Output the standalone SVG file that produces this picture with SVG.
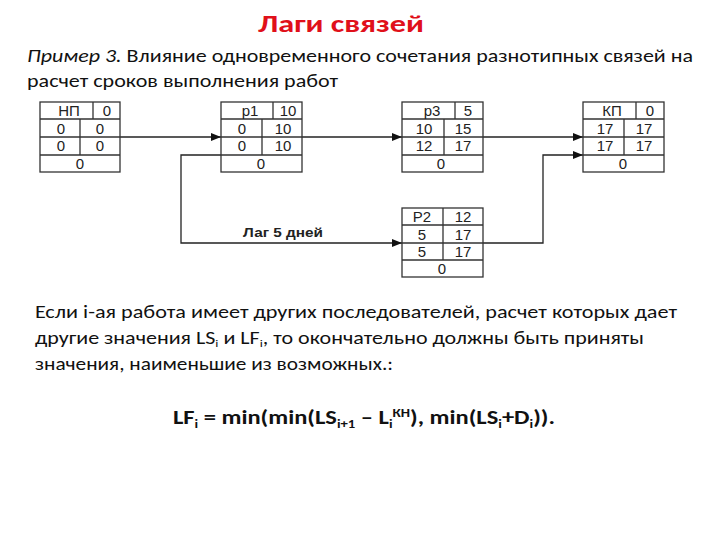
<svg xmlns="http://www.w3.org/2000/svg" width="720" height="540" viewBox="0 0 720 540">
<defs>
<marker id="ah" markerWidth="10" markerHeight="8" refX="10" refY="4" orient="auto" markerUnits="userSpaceOnUse">
<path d="M0,0 L10,4 L0,8 Z" fill="#111"/>
</marker>
<style>
.box{fill:#fff;stroke:#333;stroke-width:1.3}
.ln{stroke:#333;stroke-width:1.3;fill:none}
.t{font-family:"Liberation Sans",Arial,sans-serif;font-size:15px;fill:#222;text-anchor:middle}
.con{stroke:#222;stroke-width:1.3;fill:none}
.body{font-family:Carlito,"Liberation Sans",Arial,sans-serif;font-size:18px;fill:#111}
</style>
</defs>
<rect width="720" height="540" fill="#fff"/>
<text x="341" y="32" font-family="Carlito,'Liberation Sans',Arial,sans-serif" font-size="25" font-weight="bold" fill="#e0101a" text-anchor="middle" textLength="166" lengthAdjust="spacingAndGlyphs">Лаги связей</text>
<text class="body" x="27" y="62" textLength="666" lengthAdjust="spacingAndGlyphs"><tspan font-style="italic">Пример 3.</tspan> Влияние одновременного сочетания разнотипных связей на</text>
<text class="body" x="27" y="87" textLength="311" lengthAdjust="spacingAndGlyphs">расчет сроков выполнения работ</text>

<g id="connectors">
<line class="con" x1="120" y1="137" x2="221" y2="137" marker-end="url(#ah)"/>
<line class="con" x1="302" y1="137" x2="402" y2="137" marker-end="url(#ah)"/>
<line class="con" x1="483" y1="137" x2="583" y2="137" marker-end="url(#ah)"/>
<polyline class="con" points="221,155 181,155 181,243 402,243" marker-end="url(#ah)"/>
<polyline class="con" points="483,243 543,243 543,155 583,155" marker-end="url(#ah)"/>
<text x="243" y="237" font-family="'Liberation Sans',Arial,sans-serif" font-size="13" font-weight="bold" fill="#222" textLength="80" lengthAdjust="spacingAndGlyphs">Лаг 5 дней</text>
</g>

<g id="node-NP">
<rect class="box" x="40" y="102" width="80" height="70"/>
<path class="ln" d="M40,119H120M40,137H120M40,155H120M93,102V119M80,119V155"/>
<text class="t" x="69" y="116">НП</text><text class="t" x="107" y="116">0</text>
<text class="t" x="61" y="134">0</text><text class="t" x="100" y="134">0</text>
<text class="t" x="80" y="151" dx="-19">0</text><text class="t" x="100" y="151">0</text>
<text class="t" x="80" y="169">0</text>
</g>

<g id="node-p1">
<rect class="box" x="221" y="102" width="81" height="70"/>
<path class="ln" d="M221,119H302M221,137H302M221,155H302M273,102V119M262,119V155"/>
<text class="t" x="250" y="116">р1</text><text class="t" x="288" y="116">10</text>
<text class="t" x="242" y="134">0</text><text class="t" x="283" y="134">10</text>
<text class="t" x="242" y="151">0</text><text class="t" x="283" y="151">10</text>
<text class="t" x="261" y="169">0</text>
</g>

<g id="node-p3">
<rect class="box" x="402" y="102" width="81" height="70"/>
<path class="ln" d="M402,119H483M402,137H483M402,155H483M455,102V119M444,119V155"/>
<text class="t" x="432" y="116">р3</text><text class="t" x="468" y="116">5</text>
<text class="t" x="424" y="134">10</text><text class="t" x="463" y="134">15</text>
<text class="t" x="424" y="151">12</text><text class="t" x="463" y="151">17</text>
<text class="t" x="441" y="169">0</text>
</g>

<g id="node-KP">
<rect class="box" x="583" y="102" width="81" height="70"/>
<path class="ln" d="M583,119H664M583,137H664M583,155H664M636,102V119M624,119V155"/>
<text class="t" x="612" y="116">КП</text><text class="t" x="650" y="116">0</text>
<text class="t" x="605" y="134">17</text><text class="t" x="644" y="134">17</text>
<text class="t" x="605" y="151">17</text><text class="t" x="644" y="151">17</text>
<text class="t" x="623" y="169">0</text>
</g>

<g id="node-P2">
<rect class="box" x="402" y="208" width="81" height="69"/>
<path class="ln" d="M402,225H483M402,243H483M402,260H483M443,208V260"/>
<text class="t" x="422" y="222">Р2</text><text class="t" x="463" y="222">12</text>
<text class="t" x="422" y="240">5</text><text class="t" x="463" y="240">17</text>
<text class="t" x="422" y="257">5</text><text class="t" x="463" y="257">17</text>
<text class="t" x="442" y="274">0</text>
</g>

<text class="body" x="35" y="318" textLength="642" lengthAdjust="spacingAndGlyphs">Если i-ая работа  имеет других последователей, расчет которых дает</text>
<text class="body" x="35" y="344" textLength="609" lengthAdjust="spacingAndGlyphs">другие значения LS<tspan font-size="11" dy="3">i</tspan><tspan dy="-3"> и LF</tspan><tspan font-size="11" dy="3">i</tspan><tspan dy="-3">, то окончательно должны быть приняты</tspan></text>
<text class="body" x="35" y="370" textLength="358" lengthAdjust="spacingAndGlyphs">значения, наименьшие из возможных.:</text>

<text x="173" y="424" font-family="Carlito,'Liberation Sans',Arial,sans-serif" font-size="20" font-weight="bold" fill="#111" textLength="382" lengthAdjust="spacingAndGlyphs">LF<tspan font-size="12" dy="4">i</tspan><tspan dy="-4"> = min(min(LS</tspan><tspan font-size="12" dy="4">i+1</tspan><tspan dy="-4"> – L</tspan><tspan font-size="12" dy="4">i</tspan><tspan font-size="12" dy="-11">КН</tspan><tspan dy="7">), min(LS</tspan><tspan font-size="12" dy="4">i</tspan><tspan dy="-4">+D</tspan><tspan font-size="12" dy="4">i</tspan><tspan dy="-4">)).</tspan></text>
</svg>
